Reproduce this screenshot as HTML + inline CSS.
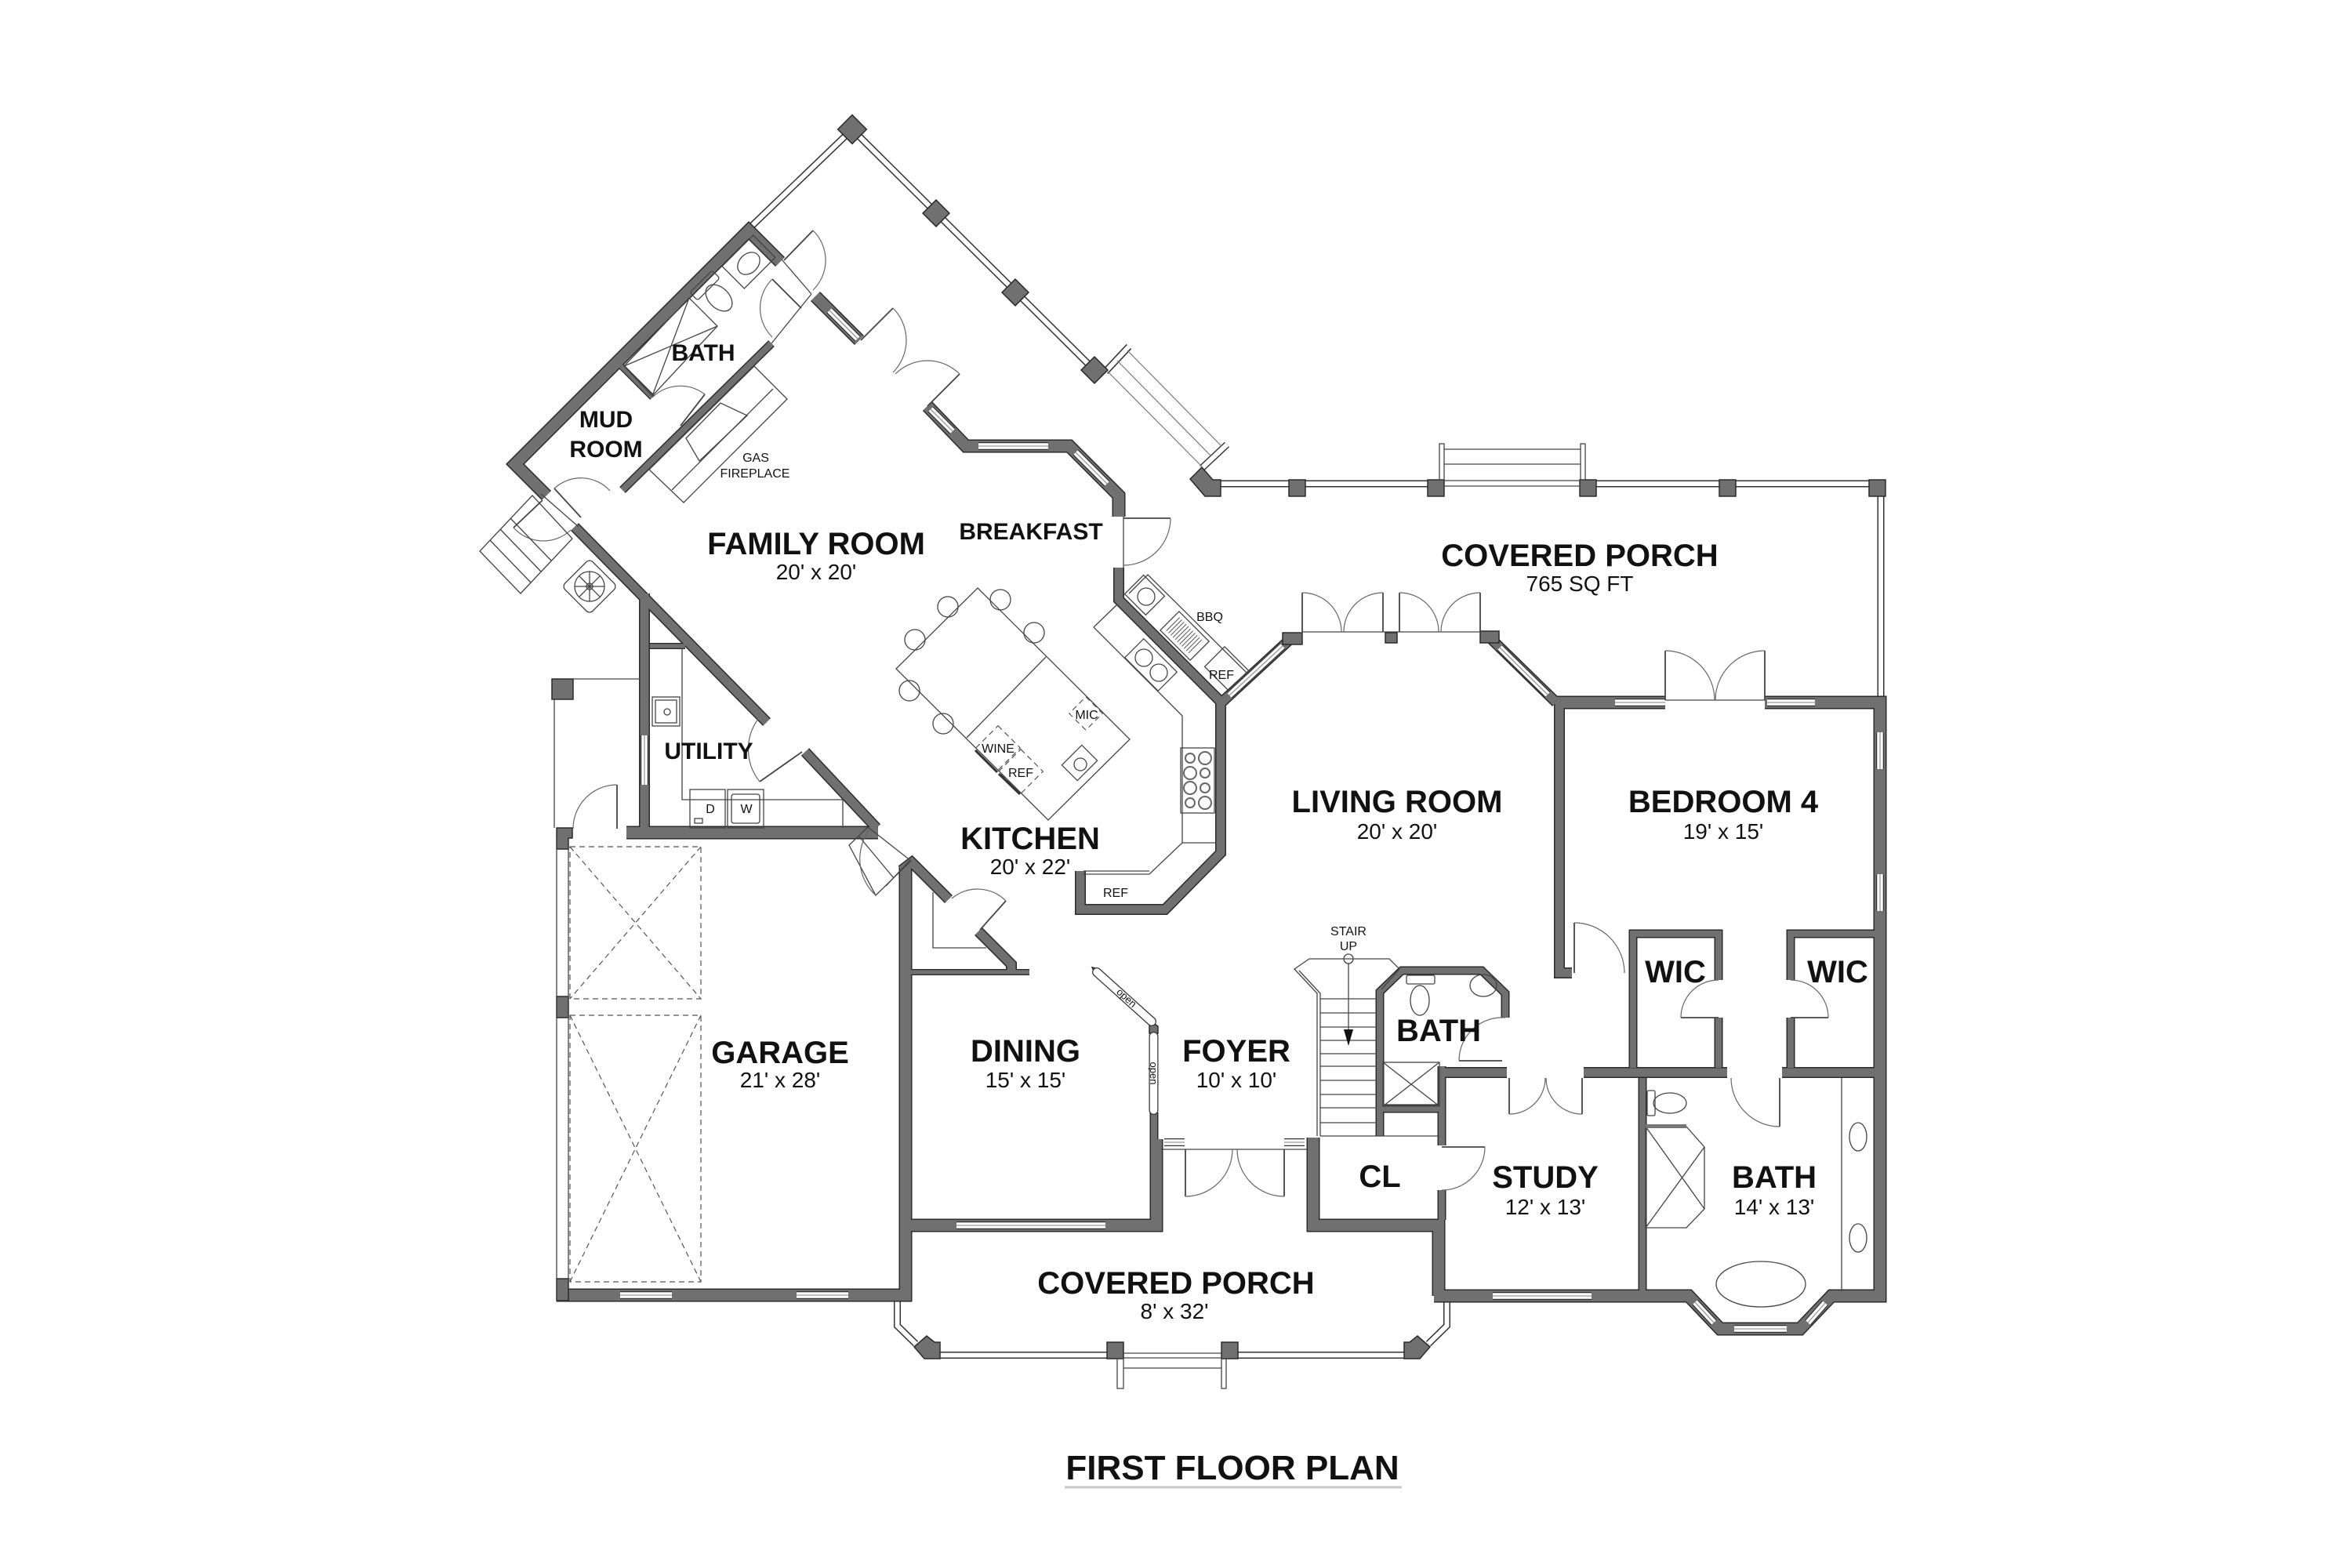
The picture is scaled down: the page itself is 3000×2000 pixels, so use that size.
<!DOCTYPE html>
<html><head><meta charset="utf-8"><style>
body{margin:0;background:#fff}
svg{display:block}
.f{fill:none;stroke:#444;stroke-width:1.3}
.fd{fill:none;stroke:#555;stroke-width:1.2;stroke-dasharray:7 5}
.d{fill:none;stroke:#444;stroke-width:1.8}
.a{fill:none;stroke:#666;stroke-width:1.2}
.p{fill:#707070;stroke:#2b2b2b;stroke-width:1.5}
text{font-family:"Liberation Sans",Arial,sans-serif;fill:#111;text-anchor:middle}
.L{font-size:40px;font-weight:bold}
.M{font-size:30px;font-weight:bold}
.S{font-size:28px}
.T{font-size:16px}
</style></head><body>
<svg xmlns="http://www.w3.org/2000/svg" width="3000" height="2000" viewBox="0 0 3000 2000">
<defs>
<path id="we" fill="none" d="M995,334 L955,294 L657,592 L697,632 M1040,378 L1096,434 M1183,518 L1232,569 L1364,569 L1427,632 L1427,659 M1985,896 L2124,896 M2251,896 L2398,896 L2398,1653 L2336,1653 L2296,1695 L2194,1695 L2154,1653 L1829,1653 M1835,1653 L1835,1563 L1675,1563 L1675,1451 M1475,1453 L1475,1563 L1155,1563 M1155,1105 L1155,1652 L710,1652 M799,1062 L1120,1062"/>
<path id="wi" fill="none" d="M733,672 L978,921 M822,757 L822,1069 M1027,959 L1118,1056 M1427,724 L1427,765 L1557,895 L1557,1088 L1486,1160 L1378,1160 L1378,1111 M1557,897 L1647,814 M1900,813 L1985,896 M1989,896 L1989,1241 L2005,1241 M1150,1110 L1163,1100 L1210,1147 M1248,1188 L1290,1230 L1290,1240 M1839,1368 L1922,1368 M2020,1368 L2203,1368 M2273,1368 L2391,1368"/>
<path id="wt" fill="none" d="M984,438 L794,625 M1760,1449 L1760,1265 L1788,1238 L1890,1238 L1920,1267 L1920,1298 M1756,1414 L1839,1414 M1839,1360 L1839,1461 M1839,1518 L1839,1556 M2095,1375 L2095,1653 M2083,1362 L2083,1191 L2192,1191 L2192,1250 M2192,1298 L2192,1362 M2284,1362 L2284,1298 M2284,1250 L2284,1191 L2391,1191 M1472,1419 L1472,1453"/>
<path id="wx" fill="none" d="M829,824 L874,824 M1161,1240 L1313,1240 M792,467 L832,507"/>
<path id="win" fill="none" d="M1058,396 L1094,432 M1187,522 L1215,550 M1248,569 L1337,569 M1372,577 L1412,617 M1568,887 L1636,824 M1913,826 L1974,886 M2060,896 L2124,896 M2254,896 L2315,896 M2398,934 L2398,981 M2398,1115 L2398,1162 M2162,1661 L2186,1687 M2212,1695 L2279,1695 M2306,1687 L2328,1662 M1904,1653 L2030,1653 M1220,1563 L1410,1563 M791,1652 L857,1652 M1016,1652 L1082,1652 M822,938 L822,1001 M1485,1457 L1511,1457 M1638,1457 L1664,1457"/>
<path id="rail" fill="none" d="M1087,165 L957,290 M1087,165 L1396,472 M1548,617 L1836,617 M2022,617 L2394,617 M2399,633 L2399,889 M1144.5,1660 L1144.5,1691 L1168,1714 M1199,1728.5 L1412,1728.5 M1579,1728.5 L1791,1728.5 M1845.5,1660 L1845.5,1691 L1822,1714 M1410,474 L1440,442 M1533,597 L1565,567"/>
</defs>

<!-- railings -->
<use href="#rail" stroke="#333" stroke-width="9"/>
<use href="#rail" stroke="#fff" stroke-width="6"/>

<!-- walls -->
<use href="#we" stroke="#2b2b2b" stroke-width="17" stroke-miterlimit="10"/>
<use href="#wi" stroke="#2b2b2b" stroke-width="14" stroke-miterlimit="10"/>
<use href="#wt" stroke="#2b2b2b" stroke-width="11" stroke-miterlimit="10"/>
<use href="#wx" stroke="#2b2b2b" stroke-width="8"/>
<use href="#we" stroke="#707070" stroke-width="14" stroke-miterlimit="10"/>
<use href="#wi" stroke="#707070" stroke-width="11" stroke-miterlimit="10"/>
<use href="#wt" stroke="#707070" stroke-width="8" stroke-miterlimit="10"/>
<use href="#wx" stroke="#707070" stroke-width="5.5"/>

<!-- windows -->
<use href="#win" stroke="#333" stroke-width="10"/>
<use href="#win" stroke="#fff" stroke-width="7.5"/>
<use href="#win" stroke="#999" stroke-width="1.3"/>

<!-- posts -->
<rect class="p" x="-13" y="-13" width="26" height="26" transform="translate(1087,165) rotate(45)"/>
<rect class="p" x="-12" y="-12" width="24" height="24" transform="translate(1194,272) rotate(45)"/>
<rect class="p" x="-12" y="-12" width="24" height="24" transform="translate(1295,373) rotate(45)"/>
<rect class="p" x="-12" y="-12" width="24" height="24" transform="translate(1396,472) rotate(45)"/>
<polygon class="p" points="1518,611 1533,596 1547,612 1557,612 1557,633 1537,633"/>
<rect class="p" x="1644" y="612" width="21" height="21"/>
<rect class="p" x="1821" y="612" width="21" height="21"/>
<rect class="p" x="2015" y="612" width="21" height="21"/>
<rect class="p" x="2193" y="612" width="21" height="21"/>
<rect class="p" x="2384" y="612" width="21" height="21"/>
<rect class="p" x="1636" y="807" width="25" height="15"/>
<rect class="p" x="1767" y="807" width="15" height="13"/>
<rect class="p" x="1888" y="805" width="24" height="15"/>
<rect class="p" x="704" y="866" width="27" height="26"/>
<rect class="p" x="710" y="1271" width="15" height="27"/>
<rect class="p" x="710" y="1631" width="15" height="28"/>
<polygon class="p" points="710,1056 730,1056 730,1069 725,1069 725,1083 710,1083"/>
<polygon class="p" points="1166,1718 1182,1704 1192,1712 1199,1712 1199,1733 1179,1733"/>
<polygon class="p" points="1824,1718 1808,1704 1798,1712 1791,1712 1791,1733 1811,1733"/>
<rect class="p" x="1412" y="1712" width="21" height="21"/>
<rect class="p" x="1558" y="1712" width="21" height="21"/>
<polygon class="p" points="1466,1301 1477,1309 1477,1318 1466,1318"/>
<polygon class="p" points="1393,1234 1402,1236 1404,1244 1397,1242"/>

<!-- steps & thin lines -->
<g class="f">
<rect x="1836" y="566" width="6" height="46"/><rect x="2016" y="566" width="6" height="46"/>
<path d="M1842,573 L2016,573 M1842,592 L2016,592 M1842,613 L2016,613 M1842,620 L2016,620"/>
<rect x="1425" y="1733" width="8" height="38"/><rect x="1558" y="1733" width="6" height="38"/>
<path d="M1433,1745 L1558,1745 M1433,1726 L1558,1726 M1433,1732 L1558,1732"/>
<path d="M710,1069 L710,1659 M725,1083 L725,1631 M731,866 L816,866 M707,892 L707,1056"/>
<path d="M1661,806 L1888,806 M2124,893 L2251,893 M1481,1466 L1667,1466 M1433,659 L1433,724 M997,331 L1035,375 M1035,375 L984,438 M690,630 L738,672"/>
</g>
<path d="M1412,473 L1533,595 M1425,460 L1545,582 M1438,447 L1558,569" fill="none" stroke="#777" stroke-width="1.2"/>

<!-- garage doors dashed -->
<g class="fd">
<rect x="727" y="1080" width="167" height="194"/><path d="M727,1080 L894,1274 M894,1080 L727,1274"/>
<rect x="727" y="1295" width="167" height="340"/><path d="M727,1295 L894,1635 M894,1295 L727,1635"/>
</g>

<!-- doors -->
<g>
<path class="d" d="M1000,332 L1037,294"/><path class="a" d="M1037,294 A53 53 0 0 1 1037,370"/>
<path class="d" d="M1022,393 L985,356"/><path class="a" d="M985,356 A52 52 0 0 0 985,430"/>
<path class="d" d="M1098,434 L1139,393"/><path class="a" d="M1139,393 A58 58 0 0 1 1139,475"/>
<path class="d" d="M1183,518 L1224,477"/><path class="a" d="M1224,477 A58 58 0 0 0 1142,477"/>
<path class="d" d="M868,543 L899,503"/><path class="a" d="M899,503 A51 51 0 0 0 832,507"/>
<path class="d" d="M692,638 L655,673"/><path class="a" d="M655,673 A51 51 0 0 0 728,676"/>
<path class="d" d="M741,660 L707,623"/><path class="a" d="M707,623 A50 50 0 0 1 778,626"/>
<path class="d" d="M1023,959 L969,997"/><path class="a" d="M969,997 A66 66 0 0 1 967,917"/>
<path class="d" d="M787,1057 L787,1001"/><path class="a" d="M787,1001 A56 56 0 0 0 731,1057"/>
<path class="d" d="M1250,1186 L1283,1149"/><path class="a" d="M1283,1149 A51 51 0 0 0 1214,1146"/>
<path class="d" d="M1433,661 L1493,661"/><path class="a" d="M1493,661 A60 60 0 0 1 1433,721"/>
<path class="d" d="M1661,806 L1661,756 M1764,806 L1764,756 M1785,806 L1785,756 M1888,806 L1888,756"/>
<path class="a" d="M1661,756 A50 50 0 0 1 1711,806 M1764,756 A50 50 0 0 0 1714,806 M1785,756 A50 50 0 0 1 1835,806 M1888,756 A50 50 0 0 0 1838,806"/>
<path class="d" d="M2124,893 L2124,830 M2251,893 L2251,830"/>
<path class="a" d="M2124,830 A63 63 0 0 1 2187,893 M2251,830 A63 63 0 0 0 2188,893"/>
<path class="d" d="M1512,1466 L1512,1526 M1638,1466 L1638,1526"/>
<path class="a" d="M1512,1526 A60 60 0 0 0 1572,1466 M1638,1526 A60 60 0 0 1 1578,1466"/>
<path class="d" d="M1925,1375 L1925,1421 M2018,1375 L2018,1421"/>
<path class="a" d="M1925,1421 A46 46 0 0 0 1971,1375 M2018,1421 A46 46 0 0 1 1972,1375"/>
<path class="d" d="M2270,1375 L2270,1437"/><path class="a" d="M2270,1437 A62 62 0 0 1 2208,1375"/>
<path class="d" d="M2192,1298 L2144,1298"/><path class="a" d="M2144,1298 A48 48 0 0 1 2192,1250"/>
<path class="d" d="M2284,1298 L2332,1298"/><path class="a" d="M2332,1298 A48 48 0 0 0 2284,1250"/>
<path class="d" d="M2008,1241 L2008,1177"/><path class="a" d="M2008,1177 A64 64 0 0 1 2072,1241"/>
<path class="d" d="M1916,1353 L1861,1353"/><path class="a" d="M1861,1353 A55 55 0 0 1 1920,1298"/>
<path class="d" d="M1839,1463 L1894,1463"/><path class="a" d="M1894,1463 A55 55 0 0 1 1839,1518"/>
<polygon class="f" points="1083,1078 1107,1055 1162,1098 1117,1142"/>
<path class="f" d="M1095,1066 L1140,1120 M1130,1130 L1160,1098"/>
<path class="a" d="M1110,1057 A63 63 0 0 0 1117,1142"/>
</g>

<!-- open strips -->
<line x1="1399" y1="1240" x2="1469" y2="1303" stroke="#333" stroke-width="12" stroke-linecap="round"/>
<line x1="1399" y1="1240" x2="1469" y2="1303" stroke="#fff" stroke-width="9.5" stroke-linecap="round"/>
<line x1="1471.5" y1="1322" x2="1471.5" y2="1416" stroke="#333" stroke-width="12" stroke-linecap="round"/>
<line x1="1471.5" y1="1322" x2="1471.5" y2="1416" stroke="#fff" stroke-width="9.5" stroke-linecap="round"/>
<text font-size="13" transform="translate(1434,1276) rotate(42)">open</text>
<text font-size="13" transform="translate(1467,1369) rotate(90)">open</text>

<!-- fixtures -->
<g class="f">
<rect x="-28" y="-20" width="56" height="40" transform="translate(955,334) rotate(-45)"/>
<ellipse cx="0" cy="0" rx="16" ry="12" transform="translate(955,336) rotate(-45)"/>
<rect x="-20" y="-7" width="40" height="14" rx="3" transform="translate(899,364) rotate(-45)"/>
<ellipse cx="0" cy="0" rx="20" ry="13" transform="translate(917,380) rotate(45)"/>
<polygon points="879,380 915,416 832,505 796,467"/>
<path d="M879,380 L832,505 M915,416 L796,467"/>
<polygon points="962,467 1004,509 872,641 828,599"/>
<polygon points="919,514 875,559 892,588 953,530"/>
<path d="M986,496 L857,625"/>
<polygon points="612,703 664,757 730,687 679,632"/>
<path d="M625,689 L677,743 M638,675 L690,729 M651,661 L703,715"/>
<rect x="-25" y="-25" width="50" height="50" rx="6" transform="translate(752,748) rotate(45)"/>
<circle cx="752" cy="748" r="19"/><circle cx="752" cy="748" r="4"/>
<path d="M752,729 L752,767 M733,748 L771,748 M739,735 L765,761 M765,735 L739,761"/>
<rect x="832" y="889" width="35" height="37"/><rect x="836" y="893" width="27" height="29"/><circle cx="851" cy="908" r="4"/>
<path d="M870,827 L870,1020 L1075,1020 L1075,1056"/>
<rect x="880" y="1007" width="45" height="49"/><rect x="886" y="1044" width="10" height="6"/>
<rect x="928" y="1007" width="46" height="49"/><rect x="933" y="1013" width="36" height="37" rx="3"/>
<path d="M1190,1138 L1190,1209 L1258,1209"/>
<polygon points="1247,750 1441,943 1337,1046 1143,853"/>
<path d="M1334,838 L1233,941"/>
<circle cx="1209" cy="774" r="13"/><circle cx="1276" cy="765" r="13"/><circle cx="1319" cy="807" r="13"/>
<circle cx="1167" cy="816" r="13"/><circle cx="1160" cy="881" r="13"/><circle cx="1203" cy="923" r="13"/>
<rect x="-18" y="-14" width="36" height="28" transform="translate(1377,973) rotate(-45)"/>
<circle cx="1378" cy="975" r="8"/>
<path d="M1395,800 L1508,913 L1508,1075 L1466,1115 L1382,1115 M1395,800 L1425,771 M1508,1075 L1551,1075 M1382,1111 L1466,1111"/>
<rect x="-30" y="-17" width="60" height="34" transform="translate(1468,848) rotate(45)"/>
<circle cx="1459" cy="839" r="11"/><circle cx="1478" cy="858" r="11"/>
<rect x="1506" y="954" width="43" height="83"/>
<path d="M1440,757 L1464,733 L1590,858 L1568,880"/>
<rect x="-19" y="-17" width="38" height="34" transform="translate(1460,759) rotate(45)"/>
<circle cx="1462" cy="761" r="11"/>
<rect x="-27" y="-17" width="54" height="34" transform="translate(1511,811) rotate(45)"/>
<rect x="-22" y="-22" width="44" height="36" transform="translate(1562,856) rotate(45)"/>
<rect x="1794" y="1244" width="36" height="11" rx="2"/>
<ellipse cx="1811" cy="1276" rx="12" ry="19"/>
<ellipse cx="1892" cy="1257" rx="17" ry="14"/>
<rect x="1764" y="1355" width="72" height="56"/>
<path d="M1764,1355 L1836,1411 M1836,1355 L1764,1411"/>
<path d="M1680,1449 L1680,1267 L1651,1236 L1670,1223 L1772,1223 L1785,1236 L1762,1262 M1684,1449 L1684,1267 L1657,1238"/>
<path d="M1684,1274 L1756,1274 M1684,1292 L1756,1292 M1684,1310 L1756,1310 M1684,1327 L1756,1327 M1684,1344 L1756,1344 M1684,1360 L1756,1360 M1684,1378 L1756,1378 M1684,1396 L1756,1396 M1684,1413 L1756,1413 M1684,1432 L1756,1432 M1684,1449 L1836,1449"/>
<circle cx="1720" cy="1223" r="6"/>
<path d="M1720,1229 L1720,1320"/>
<rect x="2101" y="1391" width="10" height="32" rx="2"/>
<ellipse cx="2130" cy="1407" rx="21" ry="13"/>
<polygon points="2099,1437 2151,1437 2174,1463 2174,1542 2151,1566 2099,1566"/>
<path d="M2099,1437 L2174,1542 M2099,1566 L2174,1463"/>
<path d="M2349,1375 L2349,1647"/>
<ellipse cx="2370" cy="1450" rx="11" ry="18"/><ellipse cx="2370" cy="1579" rx="11" ry="18"/>
<ellipse cx="2246" cy="1638" rx="57" ry="29"/>
</g>
<polygon points="1714,1313 1726,1313 1720,1334" fill="#111"/>
<rect x="2099" y="1434" width="52" height="5" fill="#777"/>
<g transform="translate(1511,811) rotate(45)" stroke="#555" stroke-width="1">
<path d="M-21,-12 L-21,12 M-17,-12 L-17,12 M-13,-12 L-13,12 M-9,-12 L-9,12 M-5,-12 L-5,12 M-1,-12 L-1,12 M3,-12 L3,12 M7,-12 L7,12 M11,-12 L11,12 M15,-12 L15,12 M19,-12 L19,12"/>
</g>
<g fill="none" stroke="#666" stroke-width="2">
<circle cx="1518" cy="967" r="6"/><circle cx="1537" cy="967" r="8"/>
<circle cx="1518" cy="986" r="8"/><circle cx="1537" cy="986" r="6"/>
<circle cx="1518" cy="1005" r="8"/><circle cx="1537" cy="1005" r="6"/>
<circle cx="1518" cy="1024" r="6"/><circle cx="1537" cy="1024" r="8"/>
</g>
<g class="fd" stroke-dasharray="5 4">
<rect x="-15" y="-15" width="30" height="30" transform="translate(1385,910) rotate(45)"/>
<rect x="-20" y="-20" width="40" height="40" transform="translate(1273,954) rotate(45)"/>
<rect x="-20" y="-20" width="40" height="40" transform="translate(1302,984) rotate(45)"/>
</g>
<path d="M1244,957 L1272,985 M1274,987 L1301,1013" stroke="#333" stroke-width="3"/>

<!-- labels -->
<text class="L" x="1041" y="707">FAMILY ROOM</text>
<text class="S" x="1041" y="739">20' x 20'</text>
<text class="M" x="1315" y="688">BREAKFAST</text>
<text class="M" x="897" y="460" font-size="29">BATH</text>
<text class="M" x="773" y="545">MUD</text>
<text class="M" x="773" y="583">ROOM</text>
<text class="T" x="964" y="589">GAS</text>
<text class="T" x="963" y="609">FIREPLACE</text>
<text class="L" x="2015" y="722">COVERED PORCH</text>
<text class="S" x="2015" y="754">765 SQ FT</text>
<text class="T" x="1543" y="792">BBQ</text>
<text class="T" x="1558" y="866">REF</text>
<text class="L" x="1782" y="1036">LIVING ROOM</text>
<text class="S" x="1782" y="1070">20' x 20'</text>
<text class="L" x="2198" y="1036">BEDROOM 4</text>
<text class="S" x="2198" y="1070">19' x 15'</text>
<text class="T" x="1386" y="917" font-size="15">MIC</text>
<text class="T" x="1273" y="960" font-size="15">WINE</text>
<text class="T" x="1302" y="991" font-size="15">REF</text>
<text class="L" x="1314" y="1083">KITCHEN</text>
<text class="S" x="1314" y="1115">20' x 22'</text>
<text class="T" x="1423" y="1144">REF</text>
<text class="M" x="904" y="968" font-size="31">UTILITY</text>
<text class="T" x="906" y="1037" font-size="18">D</text>
<text class="T" x="952" y="1037" font-size="18">W</text>
<text class="L" x="995" y="1356">GARAGE</text>
<text class="S" x="995" y="1387">21' x 28'</text>
<text class="L" x="1308" y="1354">DINING</text>
<text class="S" x="1308" y="1387">15' x 15'</text>
<text class="L" x="1577" y="1354">FOYER</text>
<text class="S" x="1577" y="1387">10' x 10'</text>
<text class="T" x="1720" y="1193" font-size="15">STAIR</text>
<text class="T" x="1720" y="1212" font-size="15">UP</text>
<text class="L" x="1835" y="1328">BATH</text>
<text class="L" x="2137" y="1253" font-size="38">WIC</text>
<text class="L" x="2344" y="1253" font-size="38">WIC</text>
<text class="L" x="1760" y="1514">CL</text>
<text class="L" x="1971" y="1515">STUDY</text>
<text class="S" x="1971" y="1549">12' x 13'</text>
<text class="L" x="2263" y="1515">BATH</text>
<text class="S" x="2263" y="1549">14' x 13'</text>
<text class="L" x="1500" y="1650">COVERED PORCH</text>
<text class="S" x="1498" y="1682">8' x 32'</text>
<text x="1572" y="1887" font-size="44" font-weight="bold">FIRST FLOOR PLAN</text>
<line x1="1358" y1="1897" x2="1788" y2="1897" stroke="#c8c8c8" stroke-width="3"/>
</svg>
</body></html>
